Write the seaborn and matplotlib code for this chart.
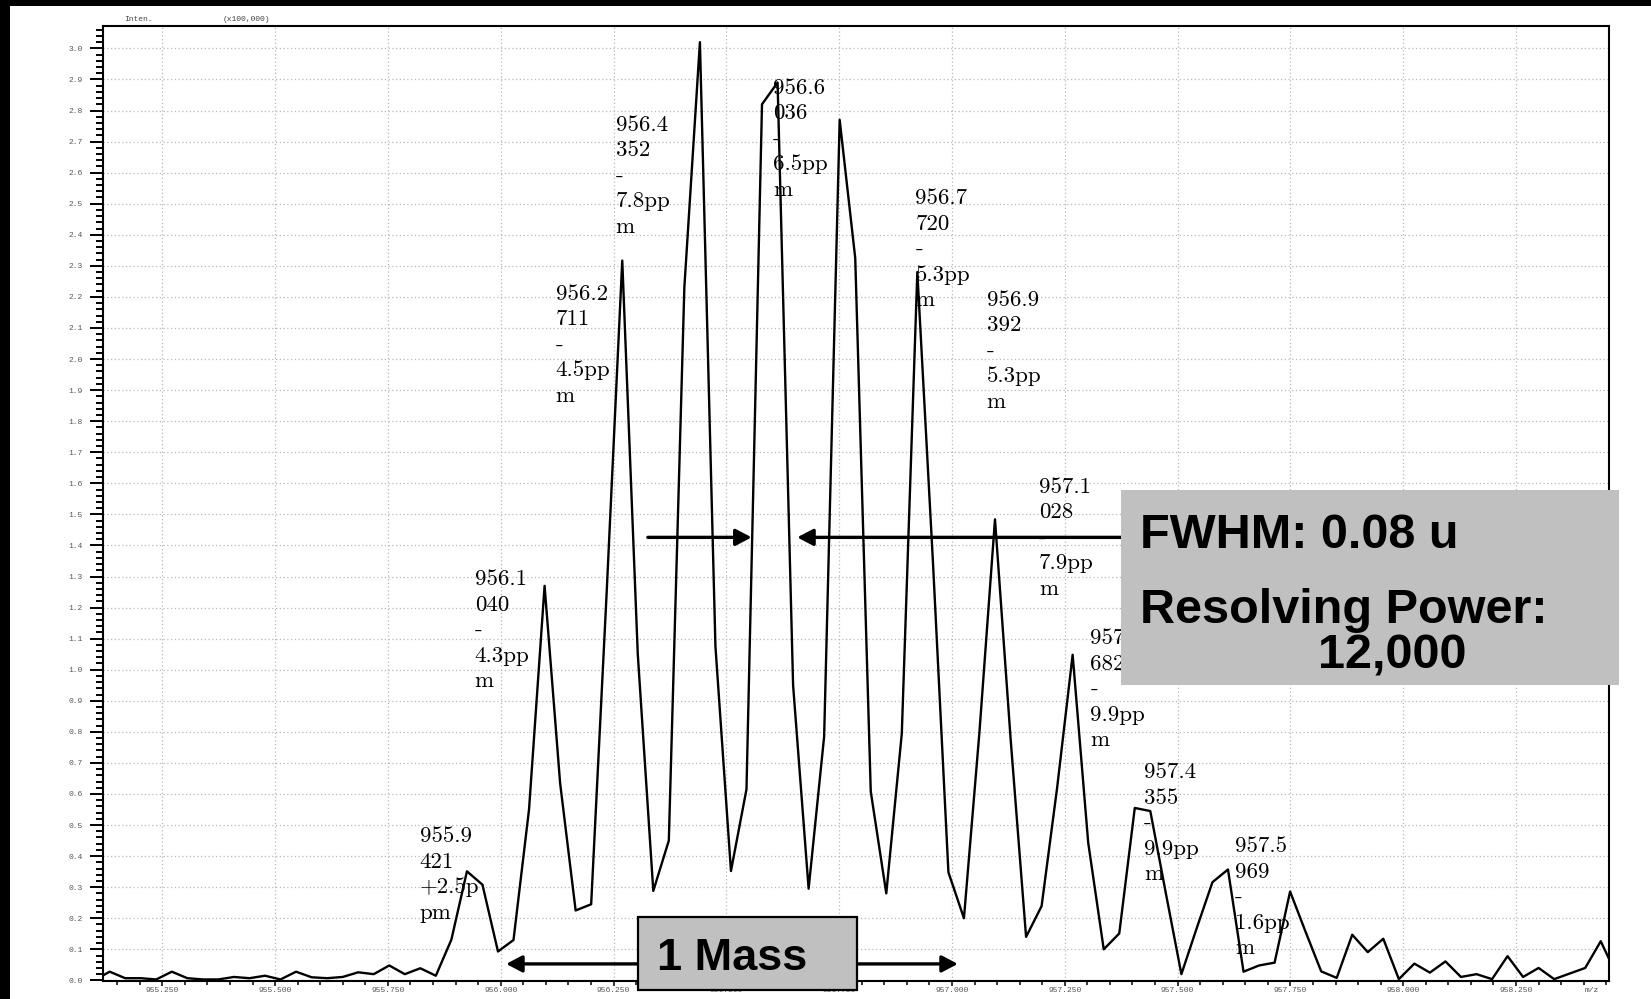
import matplotlib
matplotlib.use("Agg")
import matplotlib.pyplot as plt
import seaborn as sns
from matplotlib.patches import Rectangle, FancyArrowPatch
from matplotlib.ticker import MultipleLocator, FormatStrFormatter

# ---- profile spectrum (m/z, intensity in units of 100,000) ----
mz = [955.0990, 955.1334, 955.1678, 955.2022, 955.2367, 955.2711, 955.3055, 955.3399,
      955.3743, 955.4088, 955.4432, 955.4776, 955.5120, 955.5464, 955.5809, 955.6153,
      955.6497, 955.6841, 955.7185, 955.7530, 955.7874, 955.8218, 955.8562, 955.8906,
      955.9251, 955.9595, 955.9939, 956.0283, 956.0627, 956.0972, 956.1316, 956.1660,
      956.2004, 956.2348, 956.2693, 956.3037, 956.3381, 956.3725, 956.4069, 956.4414,
      956.4758, 956.5102, 956.5446, 956.5790, 956.6135, 956.6479, 956.6823, 956.7167,
      956.7511, 956.7856, 956.8200, 956.8544, 956.8888, 956.9232, 956.9577, 956.9921,
      957.0265, 957.0609, 957.0953, 957.1298, 957.1642, 957.1986, 957.2330, 957.2674,
      957.3019, 957.3363, 957.3707, 957.4051, 957.4395, 957.4740, 957.5084, 957.5428,
      957.5772, 957.6116, 957.6461, 957.6805, 957.7149, 957.7493, 957.7837, 957.8182,
      957.8526, 957.8870, 957.9214, 957.9558, 957.9903, 958.0247, 958.0591, 958.0935,
      958.1279, 958.1624, 958.1968, 958.2312, 958.2656, 958.3000, 958.3345, 958.3689,
      958.4033, 958.4377, 958.4721]
intensity = [0.000, 0.028, 0.007, 0.007, 0.003, 0.028, 0.007, 0.003,
             0.003, 0.011, 0.007, 0.015, 0.003, 0.028, 0.010, 0.007,
             0.011, 0.026, 0.020, 0.048, 0.020, 0.039, 0.015, 0.131,
             0.351, 0.308, 0.093, 0.130, 0.550, 1.270, 0.635, 0.225,
             0.245, 1.250, 2.317, 1.050, 0.288, 0.450, 2.230, 3.020,
             1.075, 0.352, 0.615, 2.820, 2.890, 0.950, 0.295, 0.785,
             2.770, 2.325, 0.608, 0.280, 0.795, 2.280, 1.350, 0.348,
             0.200, 0.800, 1.484, 0.780, 0.140, 0.239, 0.620, 1.048,
             0.443, 0.100, 0.151, 0.555, 0.545, 0.280, 0.020, 0.170,
             0.316, 0.357, 0.028, 0.048, 0.057, 0.286, 0.156, 0.029,
             0.008, 0.147, 0.091, 0.134, 0.004, 0.054, 0.025, 0.061,
             0.011, 0.020, 0.004, 0.078, 0.011, 0.040, 0.004, 0.022,
             0.040, 0.126, 0.020]

# ---- peak annotations: text, anchor (m/z, baseline of first line) ----
peak_labels = ["955.9\n421\n+2.5p\npm",
               "956.1\n040\n-\n4.3pp\nm",
               "956.2\n711\n-\n4.5pp\nm",
               "956.4\n352\n-\n7.8pp\nm",
               "956.6\n036\n-\n6.5pp\nm",
               "956.7\n720\n-\n5.3pp\nm",
               "956.9\n392\n-\n5.3pp\nm",
               "957.1\n028\n-\n7.9pp\nm",
               "957.2\n682\n-\n9.9pp\nm",
               "957.4\n355\n-\n9.9pp\nm",
               "957.5\n969\n-\n1.6pp\nm"]
label_mz = [955.8205, 955.9424, 956.1219, 956.2549, 956.6039, 956.9191,
            957.0765, 957.1930, 957.3069, 957.4257, 957.6274]
label_base = [0.4453, 1.2717, 2.1913, 2.7347, 2.8537, 2.4984,
              2.1720, 1.5691, 1.0820, 0.6511, 0.4122]

# FWHM arrows (m/z tail -> m/z head) at the half-height level
fwhm_level = 1.426
fwhm_arrows = [(956.326, 956.556), (957.400, 956.657)]
# one-mass-unit span
mass_level = 0.053
mass_span = (956.012, 957.013)

fwhm_text = "FWHM: 0.08 u"
rp_title = "Resolving Power:"
rp_value = "12,000"
mass_text = "1 Mass"
y_title = "Inten."
y_scale = "(x100,000)"
x_title = "m/z"

W, H = 1651, 999
sns.set_theme(style="white")
plt.rcParams["font.family"] = ["Liberation Mono", "DejaVu Sans Mono"]

fig = plt.figure(figsize=(W / 100, H / 100), dpi=100, facecolor="black")
fig.add_artist(Rectangle((10 / W, 0), 1, 1 - 6 / H, transform=fig.transFigure,
                         facecolor="white", edgecolor="none", zorder=-10))

ax = fig.add_axes([103 / W, 1 - 981 / H, (1609 - 103) / W, (981 - 26) / H])
ax.set_facecolor("white")

sns.lineplot(x=mz, y=intensity, ax=ax, color="black", linewidth=1.7,
             estimator=None, zorder=3)

ax.set_xlim(955.1186, 958.456)
ax.set_ylim(-0.002, 3.072)
ax.set_xlabel("")
ax.set_ylabel("")

ax.xaxis.set_major_locator(MultipleLocator(0.25))
ax.xaxis.set_minor_locator(MultipleLocator(0.05))
ax.xaxis.set_major_formatter(FormatStrFormatter("%.3f"))
ax.yaxis.set_major_locator(MultipleLocator(0.1))
ax.yaxis.set_minor_locator(MultipleLocator(0.02))
ax.yaxis.set_major_formatter(FormatStrFormatter("%.1f"))

ax.tick_params(axis="y", which="major", direction="out", length=9.4, width=1.4,
               pad=5, labelsize=5.8, labelcolor="#555555", color="black", left=True)
ax.tick_params(axis="y", which="minor", direction="out", length=5, width=1.4,
               color="black", left=True)
ax.tick_params(axis="x", which="major", direction="out", length=3.6, width=1.1,
               pad=1, labelsize=5.8, labelcolor="#555555", color="black", bottom=True)
ax.tick_params(axis="x", which="minor", direction="out", length=3.0, width=1.1,
               color="black", bottom=True)

for side in ["left", "right", "top", "bottom"]:
    ax.spines[side].set_visible(True)
    ax.spines[side].set_color("black")
    ax.spines[side].set_linewidth(1.5)

ax.set_axisbelow(True)
ax.grid(True, which="major", color="#b8b8b8", linestyle=(0, (1, 2)), linewidth=0.9)

# peak annotations, one line every 25.5 px
line_step_pt = 25.5 * 72 / 100
for text, x0, y0 in zip(peak_labels, label_mz, label_base):
    for k, line in enumerate(text.split("\n")):
        ax.annotate(line, xy=(x0, y0), xytext=(0, -k * line_step_pt),
                    textcoords="offset points", ha="left", va="baseline",
                    fontfamily="cmr10", fontsize=16.5, color="black",
                    annotation_clip=False, zorder=2)

arrow_style = "-|>,head_length=0.8,head_width=0.42"
for tail, head in fwhm_arrows:
    ax.add_patch(FancyArrowPatch((tail, fwhm_level), (head, fwhm_level),
                                 arrowstyle=arrow_style, mutation_scale=12,
                                 color="black", linewidth=2.4, shrinkA=0, shrinkB=0,
                                 zorder=4))
ax.add_patch(FancyArrowPatch((mass_span[0], mass_level), (mass_span[1], mass_level),
                             arrowstyle="<|-|>,head_length=0.8,head_width=0.42",
                             mutation_scale=12, color="black", linewidth=2.4,
                             shrinkA=0, shrinkB=0, zorder=4))

# callout boxes
fig.add_artist(Rectangle((1121 / W, 1 - 684.5 / H), (1618.5 - 1121) / W, (684.5 - 489.5) / H,
                         transform=fig.transFigure, facecolor="#c0c0c0",
                         edgecolor="none", zorder=5))
bold = dict(fontfamily="Liberation Sans", fontweight="bold", color="black",
            ha="left", va="baseline", zorder=6)
fig.text(1140 / W, 1 - 547.5 / H, fwhm_text, fontsize=35, **bold)
fig.text(1140 / W, 1 - 623 / H, rp_title, fontsize=35, **bold)
fig.text(1318 / W, 1 - 668 / H, rp_value, fontsize=35, **bold)

fig.add_artist(Rectangle((637.5 / W, 1 - 990 / H), (857 - 637.5) / W, (990 - 916.7) / H,
                         transform=fig.transFigure, facecolor="#c0c0c0",
                         edgecolor="black", linewidth=1.6, zorder=5))
fig.text(657 / W, 1 - 970 / H, mass_text, fontsize=32.5, **bold)

# axis captions
small = dict(fontfamily="Liberation Mono", fontsize=5.8, color="#444444", va="baseline")
fig.text(124 / W, 1 - 20.7 / H, y_title, ha="left", **small)
fig.text(222.7 / W, 1 - 20.7 / H, y_scale, ha="left", **small)
fig.text(1592 / W, 1 - 992 / H, x_title, ha="center", **small)

fig.savefig("out.png", dpi=100, facecolor="black")
